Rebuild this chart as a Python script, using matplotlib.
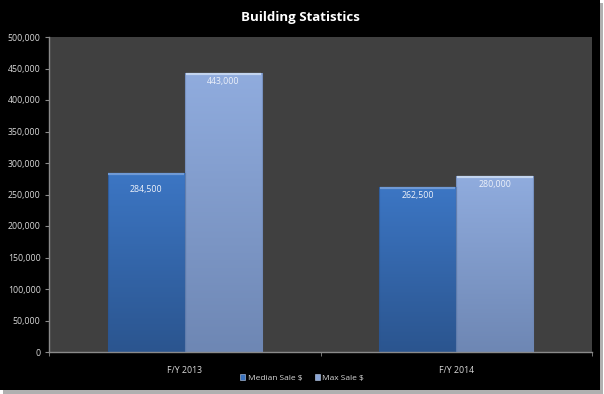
import numpy as np
import matplotlib.pyplot as plt
from matplotlib.colors import LinearSegmentedColormap
from matplotlib.patches import Rectangle

# data
categories = ["F/Y 2013", "F/Y 2014"]
series_names = ["Median Sale $", "Max Sale $"]
median_sale = [284500, 262500]
max_sale = [443000, 280000]
y_ticks = [0, 50000, 100000, 150000, 200000, 250000, 300000, 350000, 400000, 450000, 500000]
# label drop below bar top (pixels), per series / category
label_drop = [[17, 9], [9, 9]]

# colours (top, bottom of gradient)
grads = [("#3c76c4", "#2b558f"), ("#90acde", "#6e87b4")]
bevels = ["#6f9ad6", "#c3d5f0"]
legend_cols = ["#3a72bd", "#8aa6d8"]
txt = "#d9d9d9"

plt.rcParams["font.family"] = ["Open Sans", "DejaVu Sans"]

fig = plt.figure(figsize=(6.04, 3.94), dpi=100)
fig.patch.set_facecolor("white")

# shadow + black panel
W, H = 604.0, 394.0
fig.patches.append(Rectangle((3 / W, 0 / H), 600 / W, 391 / H, transform=fig.transFigure,
                             facecolor="#b0b0b0", edgecolor="none", zorder=-3))
fig.patches.append(Rectangle((0, 4 / H), 600 / W, 390 / H, transform=fig.transFigure,
                             facecolor="black", edgecolor="none", zorder=-2))

ax = fig.add_axes([49 / W, 42 / H, 543 / W, 315 / H])
ax.set_facecolor("#404040")
px = 500000 / 315.0  # data units per pixel

x = np.arange(len(categories))
width = 0.284
grad = np.linspace(1, 0, 100).reshape(-1, 1)

for k, vals in enumerate([median_sale, max_sale]):
    offs = (k - 0.5) * width
    bars = ax.bar(x + offs, vals, width, color="none", edgecolor="none", zorder=2)
    cmap = LinearSegmentedColormap.from_list("g%d" % k, [grads[k][1], grads[k][0]])
    for i, (b, v) in enumerate(zip(bars, vals)):
        x0 = b.get_x()
        im = ax.imshow(grad, extent=[x0, x0 + width, 0, v], aspect="auto",
                       cmap=cmap, vmin=0, vmax=1, zorder=2)
        im.set_clip_path(b)
        # darker sides and light bevel on top
        ax.plot([x0, x0], [0, v], color=grads[k][1], lw=0.8, alpha=0.7, zorder=3)
        ax.plot([x0 + width, x0 + width], [0, v], color=grads[k][1], lw=0.8, alpha=0.7, zorder=3)
        ax.plot([x0 + 0.003, x0 + width - 0.003], [v - 1.5 * px, v - 1.5 * px],
                color=bevels[k], lw=1.6, zorder=3, solid_capstyle="butt")
        ax.text(x0 + width / 2, v - label_drop[k][i] * px, f"{v:,}", ha="center", va="center",
                color="#eef2fa", fontsize=6.3, zorder=4)

ax.set_xlim(-0.5, 1.5)
ax.set_ylim(0, 500000)
ax.set_yticks(y_ticks)
ax.set_yticklabels([f"{t:,}" for t in y_ticks])
ax.set_xticks(x)
ax.set_xticklabels(categories)
ax.set_xticks([-0.5, 0.5, 1.5], minor=True)
ax.tick_params(axis="x", which="major", length=0, pad=10, colors=txt, labelsize=6.3)
ax.tick_params(axis="x", which="minor", length=3, color="#8a8a8a", direction="out")
ax.tick_params(axis="y", length=3, color="#8a8a8a", colors=txt, labelsize=6.3, pad=3)
for s in ["top", "right"]:
    ax.spines[s].set_visible(False)
for s in ["left", "bottom"]:
    ax.spines[s].set_color("#8a8a8a")
    ax.spines[s].set_linewidth(1.0)

fig.text(300 / W, 1 - 17 / H, "Building Statistics", ha="center", va="center",
         color="white", fontsize=9.5, fontweight="bold")

handles = [Rectangle((0, 0), 1, 1, facecolor=c, edgecolor="#c0d0e8", lw=0.4) for c in legend_cols]
leg = fig.legend(handles, series_names, loc="center", bbox_to_anchor=(302 / W, 1 - 378 / H),
                 ncol=2, frameon=False, fontsize=6, handlelength=0.6, handleheight=0.6,
                 handletextpad=0.3, columnspacing=1.5, labelcolor=txt)

fig.savefig("out.png", dpi=100, facecolor=fig.get_facecolor())
